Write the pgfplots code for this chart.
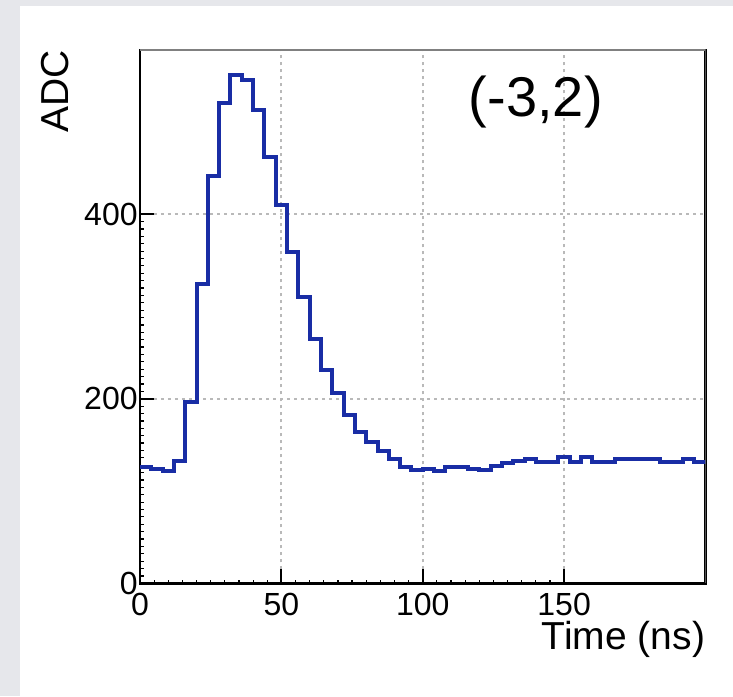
\documentclass[border=0pt]{standalone}
\usepackage{fontspec}
\setmainfont{Liberation Sans}
\usepackage{pgfplots}
\pgfplotsset{compat=1.18}
\definecolor{bggray}{RGB}{230,231,235}
\definecolor{histblue}{RGB}{25,45,165}
\definecolor{gridgray}{RGB}{185,185,185}

\begin{document}
\begin{tikzpicture}
% page background: gray strip left and top, white card
\fill[bggray] (0,0) rectangle (366.5pt,348pt);
\fill[white] (10pt,0) rectangle (366.5pt,345pt);
\begin{axis}[
  at={(70pt,56.35pt)}, anchor=south west,
  scale only axis, width=282.75pt, height=266.65pt,
  xmin=0, xmax=200, ymin=0, ymax=578,
  xtick={0,50,100,150}, ytick={0,200,400},
  minor x tick num=9, minor y tick num=24,
  tick align=inside, xtick pos=bottom, ytick pos=left,
  major tick length=7pt, minor tick length=1.8pt,
  tick style={black},
  major tick style={line width=1pt},
  minor tick style={line width=0.6pt},
  grid=major,
  major grid style={gridgray, line width=1pt, dash pattern=on 1.5pt off 2pt},
  axis line style={line width=1.3pt},
  /pgf/number format/assume math mode=true,
  tick label style={font=\fontsize{16}{16}\selectfont},
  xticklabel style={anchor=north, inner sep=0pt, yshift=-4.5pt},
  yticklabel style={anchor=east, inner sep=0pt, xshift=-1pt},
  every axis x label/.style={at={(rel axis cs:1,0)}, anchor=east, yshift=-28.3pt,
    inner sep=0pt, font=\fontsize{19.5}{19.5}\selectfont},
  every axis y label/.style={at={(rel axis cs:0,1)}, xshift=-42.5pt, rotate=90, anchor=east,
    inner sep=0pt, font=\fontsize{19.5}{19.5}\selectfont},
  xlabel={Time (ns)}, ylabel={ADC},
]
\addplot[const plot mark left, no marks, histblue, line width=2pt] coordinates {
(0,126.5) (4,124) (8,122) (12,132.6) (16,196) (20,324) (24,441) (28,521)
(32,551) (36,546) (40,513) (44,462) (48,410) (52,359) (56,310) (60,265)
(64,231) (68,206) (72,182.5) (76,164.4) (80,153.5) (84,143.8) (88,134.5) (92,126.5)
(96,122.9) (100,124) (104,121.8) (108,126.5) (112,126.5) (116,124) (120,122.4) (124,127)
(128,130.2) (132,132.6) (136,134.8) (140,131.9) (144,131.9) (148,136.7) (152,131.9) (156,136.7)
(160,131.9) (164,131.9) (168,134.5) (172,134.5) (176,134.5) (180,134.5) (184,131.9) (188,131.9)
(192,134.5) (196,131.9) (200,131.9)
};
\draw[gray, line width=1pt] (rel axis cs:0,1) -- (rel axis cs:1,1) -- (rel axis cs:1,0);
\node[font=\fontsize{28}{28}\selectfont] at (axis cs:140,522) {(-3,2)};
\end{axis}
\end{tikzpicture}
\end{document}
